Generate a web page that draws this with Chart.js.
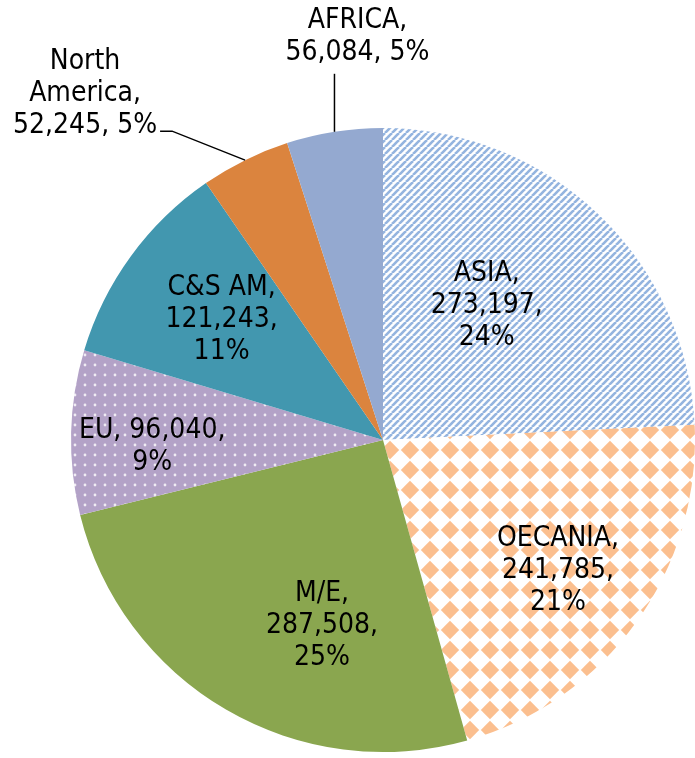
<!DOCTYPE html>
<html>
<head>
<meta charset="utf-8">
<script src="https://cdn.jsdelivr.net/npm/chart.js@4"></script>
<style>
  html, body { margin: 0; padding: 0; background: #fff; }
  #wrap { width: 695px; height: 758px; position: relative; }
</style>
</head>
<body>
<div id="wrap"><canvas id="region-pie"></canvas></div>
<script>
var regions = ['ASIA', 'OECANIA', 'M/E', 'EU', 'C&S AM', 'North America', 'AFRICA'];
var visitors = [273197, 241785, 287508, 96040, 121243, 52245, 56084];

// how many words go on each line of a label
var wraps = [[1, 1, 1], [1, 1, 1], [1, 1, 1], [2, 1], [2, 1, 1], [1, 1, 2], [1, 2]];

function makePattern(size, draw) {
    var c = document.createElement('canvas');
    c.width = size;
    c.height = size;
    var g = c.getContext('2d');
    draw(g, size);
    return document.createElement('canvas').getContext('2d').createPattern(c, 'repeat');
}

var stripes = makePattern(7, function (g, s) {
    g.fillStyle = '#ffffff';
    g.fillRect(0, 0, s, s);
    g.strokeStyle = '#94b4df';
    g.lineWidth = 2.6;
    for (var k = -s; k <= s; k += s) {
        g.beginPath();
        g.moveTo(k, s);
        g.lineTo(k + s, 0);
        g.stroke();
    }
});

var diamonds = makePattern(20, function (g, s) {
    g.fillStyle = '#ffffff';
    g.fillRect(0, 0, s, s);
    g.fillStyle = '#fbbf8f';
    var h = s / 2, d = 9.2;
    g.beginPath();
    g.moveTo(h, h - d);
    g.lineTo(h + d, h);
    g.lineTo(h, h + d);
    g.lineTo(h - d, h);
    g.closePath();
    g.fill();
});

var dots = makePattern(10, function (g, s) {
    g.fillStyle = '#b3a2c7';
    g.fillRect(0, 0, s, s);
    g.fillStyle = 'rgba(255,255,255,0.8)';
    g.beginPath();
    g.arc(s / 2, s / 2, 1.4, 0, Math.PI * 2);
    g.fill();
});

var fills = [stripes, diamonds, '#8aa64f', dots, '#4297af', '#db843e', '#94a9d0'];

// label placement: inside labels by angle shift + radius share,
// outside labels with a leader line
var placing = [
    { shift: -6, share: 0.545 },
    { shift: 1, share: 0.70 },
    { shift: -12, share: 0.625 },
    { shift: -3, share: 0.74 },
    { shift: 0.6, share: 0.645 },
    { leader: [[-73, -29], [-85, -29]], text: [-160, -66] },
    { leader: [[0, -58]], text: [23, -95] }
];

var total = visitors.reduce(function (a, b) { return a + b; }, 0);

function labelLines(i) {
    var words = regions[i].split(' ');
    words[words.length - 1] += ',';
    words.push(visitors[i].toLocaleString('en-US') + ',');
    words.push(Math.round(visitors[i] / total * 100) + '%');
    var out = [], at = 0;
    wraps[i].forEach(function (n) {
        out.push(words.slice(at, at + n).join(' '));
        at += n;
    });
    return out;
}

var sliceLabels = {
    id: 'sliceLabels',
    afterDatasetsDraw: function (chart) {
        var ctx = chart.ctx;
        var arcs = chart.getDatasetMeta(0).data;
        ctx.save();
        ctx.font = '28px "DejaVu Sans Condensed", "DejaVu Sans", sans-serif';
        ctx.fillStyle = '#000';
        ctx.textAlign = 'center';
        ctx.textBaseline = 'middle';
        arcs.forEach(function (arc, i) {
            var p = placing[i];
            var mid = (arc.startAngle + arc.endAngle) / 2;
            var lines = labelLines(i);
            var lh = 32;
            var cx, cy;
            if (p.leader) {
                var ex = arc.x + Math.cos(mid) * arc.outerRadius;
                var ey = arc.y + Math.sin(mid) * arc.outerRadius;
                ctx.strokeStyle = '#000';
                ctx.lineWidth = 1.5;
                ctx.beginPath();
                ctx.moveTo(ex, ey);
                p.leader.forEach(function (pt) { ctx.lineTo(ex + pt[0], ey + pt[1]); });
                ctx.stroke();
                cx = ex + p.text[0];
                cy = ey + p.text[1];
            } else {
                var a = mid + p.shift * Math.PI / 180;
                cx = arc.x + Math.cos(a) * arc.outerRadius * p.share;
                cy = arc.y + Math.sin(a) * arc.outerRadius * p.share;
            }
            var top = cy - (lines.length - 1) * lh / 2;
            lines.forEach(function (t, k) { ctx.fillText(t, cx, top + k * lh); });
        });
        ctx.restore();
    }
};

var layout = {
    type: 'pie',
    data: {
        labels: regions,
        datasets: [{
            data: visitors,
            backgroundColor: fills,
            borderWidth: 0
        }]
    },
    options: {
        responsive: true,
        maintainAspectRatio: false,
        animation: false,
        layout: {
            padding: { top: 128, bottom: 6, left: 71, right: 0 }
        },
        plugins: {
            legend: { display: false },
            tooltip: { enabled: false }
        }
    },
    plugins: [sliceLabels]
};

new Chart(document.getElementById('region-pie'), layout);
</script>
</body>
</html>
